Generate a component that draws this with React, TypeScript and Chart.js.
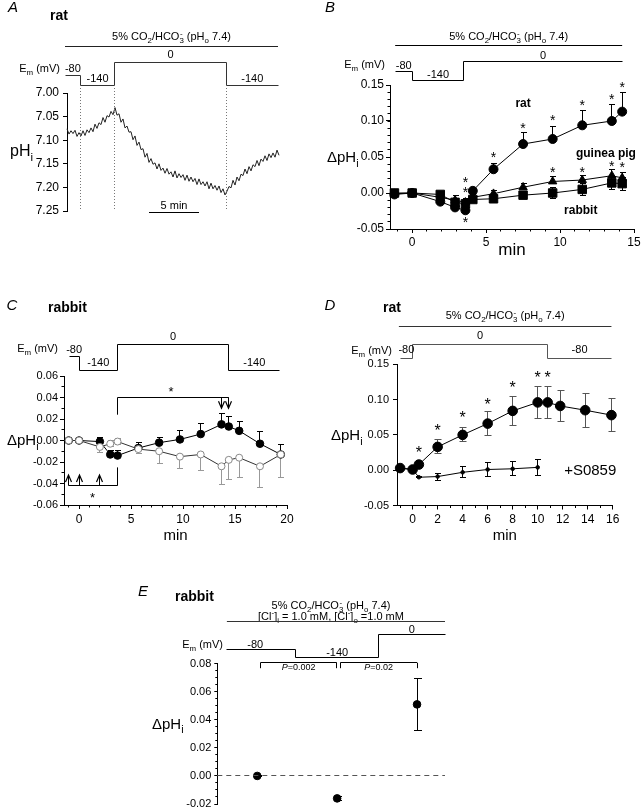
import React, { useEffect, useRef } from 'react';
import { Chart, registerables } from 'chart.js';

Chart.register(...registerables);

const FONT = '"Liberation Sans", Arial, Helvetica, sans-serif';

/* ---------------- Panel A : rat, single pHi recording ---------------- */
const A_SAMPLE_MIN = 0.2;
const A_PHI = [
  7.076, 7.087, 7.080, 7.086, 7.079, 7.092, 7.084, 7.091, 7.080, 7.090,
  7.078, 7.084, 7.074, 7.082, 7.066, 7.075, 7.063, 7.067, 7.052, 7.062,
  7.048, 7.051, 7.039, 7.046, 7.031, 7.047, 7.044, 7.062, 7.055, 7.074,
  7.070, 7.083, 7.082, 7.099, 7.091, 7.111, 7.104, 7.120, 7.118, 7.136,
  7.128, 7.147, 7.139, 7.151, 7.148, 7.161, 7.150, 7.164, 7.159, 7.170,
  7.160, 7.172, 7.167, 7.178, 7.165, 7.180, 7.171, 7.179, 7.173, 7.185,
  7.174, 7.187, 7.178, 7.188, 7.181, 7.194, 7.182, 7.194, 7.188, 7.197,
  7.188, 7.203, 7.191, 7.203, 7.196, 7.206, 7.197, 7.211, 7.203, 7.216,
  7.208, 7.198, 7.201, 7.185, 7.195, 7.178, 7.186, 7.172, 7.175, 7.161,
  7.171, 7.156, 7.165, 7.152, 7.156, 7.143, 7.154, 7.140, 7.145, 7.133,
  7.143, 7.129, 7.137, 7.127, 7.136, 7.121, 7.132,
];
const A_YTICKS = [7.0, 7.05, 7.1, 7.15, 7.2, 7.25];
const A_STEP_T = [-0.2, 1.37, 4.73, 15.97, 21.1];
const A_STEP_MV = ['-80', '-140', '0', '-140'];
const A_BAR_T = [8.2, 13.2];

/* ---------------- Panel B : rat / guinea pig / rabbit ---------------- */
const B_TIME = [-1.2, 0, 1.9, 2.9, 3.6, 4.1, 5.5, 7.5, 9.5, 11.5, 13.5, 14.2];
const B_RAT = [-0.002, 0.0, -0.012, -0.02, -0.024, 0.003, 0.033, 0.068, 0.075, 0.094, 0.1, 0.113];
const B_RAT_SEM = [0.002, 0.002, 0.003, 0.004, 0.004, 0.003, 0.008, 0.016, 0.018, 0.02, 0.023, 0.027];
const B_GPIG = [-0.001, 0.0, -0.006, -0.01, -0.013, -0.006, -0.001, 0.008, 0.016, 0.018, 0.024, 0.021];
const B_GPIG_SEM = [0.002, 0.002, 0.004, 0.006, 0.006, 0.004, 0.005, 0.005, 0.007, 0.007, 0.008, 0.007];
const B_RABBIT = [0.0, 0.0, -0.002, -0.013, -0.015, -0.009, -0.008, -0.003, 0.0, 0.005, 0.014, 0.013];
const B_RABBIT_SEM = [0.002, 0.002, 0.003, 0.005, 0.006, 0.004, 0.004, 0.005, 0.007, 0.008, 0.009, 0.009];
const B_STAR_T = [3.6, 3.6, 3.6, 5.5, 7.5, 9.5, 11.5, 13.5, 14.2, 9.5, 11.5, 13.5, 14.2];
const B_STAR_V = [0.019, 0.005, -0.036, 0.054, 0.095, 0.105, 0.127, 0.135, 0.152, 0.034, 0.034, 0.041, 0.04];
const B_XTICKS = [0, 5, 10, 15];
const B_YTICKS = [-0.05, 0, 0.05, 0.1, 0.15];
const B_STEP_T = [-1.15, 0, 3.5, 14.2];
const B_STEP_MV = ['-80', '-140', '0'];

/* ---------------- Panel C : rabbit ---------------- */
const C_TIME = [-1, 0, 2, 3, 3.7, 5.7, 7.7, 9.7, 11.7, 13.7, 14.4, 15.4, 17.4, 19.4];
const C_FILLED = [0.0, 0.0, -0.001, -0.013, -0.014, -0.007, -0.002, 0.001, 0.006, 0.015, 0.013, 0.009, -0.003, -0.013];
const C_FILLED_SEM = [0, 0, 0.004, 0.004, 0.005, 0.005, 0.005, 0.008, 0.01, 0.01, 0.009, 0.009, 0.011, 0.009];
const C_OPEN = [0.0, 0.0, -0.006, -0.003, -0.001, -0.008, -0.01, -0.015, -0.013, -0.024, -0.018, -0.016, -0.024, -0.013];
const C_OPEN_SEM_DN = [0, 0, 0.005, 0.003, 0.003, 0.004, 0.011, 0.011, 0.015, 0.017, 0.018, 0.018, 0.02, 0.021];
const C_OPEN_SEM_UP = [0, 0, 0.005, 0.003, 0.003, 0, 0, 0, 0, 0, 0, 0, 0, 0];
const C_XTICKS = [0, 5, 10, 15, 20];
const C_YTICKS = [-0.06, -0.04, -0.02, 0, 0.02, 0.04, 0.06];
const C_STEP_T = [-0.95, 0, 3.7, 14.4, 19.3];
const C_STEP_MV = ['-80', '-140', '0', '-140'];
const C_UP_BRACKET_T = [3.7, 14.4];
const C_UP_ARROW_T = [13.7, 14.4];
const C_DN_BRACKET_T = [-1, 3.7];
const C_DN_ARROW_T = [-1, 0, 2];

/* ---------------- Panel D : rat, +/- S0859 ---------------- */
const D_TIME = [-1, 0, 0.5, 2, 4, 6, 8, 10, 10.8, 11.8, 13.8, 15.9];
const D_RAT = [0.003, 0.001, 0.008, 0.033, 0.05, 0.066, 0.084, 0.096, 0.096, 0.091, 0.085, 0.078];
const D_RAT_SEM = [0.002, 0.001, 0.002, 0.01, 0.01, 0.017, 0.02, 0.023, 0.023, 0.022, 0.024, 0.023];
const D_S_TIME = [-1, 0, 0.5, 2, 4, 6, 8, 10];
const D_S0859 = [0.003, 0.001, -0.01, -0.009, -0.003, 0.001, 0.002, 0.004];
const D_S0859_SEM = [0, 0, 0.001, 0.005, 0.008, 0.01, 0.01, 0.011];
const D_STAR_T = [0.5, 2, 4, 6, 8, 10, 10.8];
const D_STAR_V = [0.03, 0.061, 0.08, 0.098, 0.122, 0.137, 0.137];
const D_XTICKS = [0, 2, 4, 6, 8, 10, 12, 14, 16];
const D_YTICKS = [-0.05, 0, 0.05, 0.1, 0.15];
const D_STEP_T = [-1.0, 0, 10.8, 15.9];
const D_STEP_MV = ['-80', '0', '-80'];

/* ---------------- Panel E : rabbit, low Cl- ---------------- */
const E_POS = [1, 2, 3];
const E_DPHI = [0.0, -0.016, 0.051];
const E_SEM = [0.0006, 0.0012, 0.0185];
const E_YTICKS = [-0.02, 0, 0.02, 0.04, 0.06, 0.08];
const E_STEP_X = [0.62, 1.48, 2.52, 3.35];
const E_STEP_MV = ['-80', '-140', '0'];
const E_P_BRACKETS = [[1.04, 1.995], [2.04, 3.0]];
const E_P_TEXT = ['0.002', '0.02'];

/* ---------------- drawing helpers ---------------- */
type Seg = { t: string; sub?: boolean; sup?: boolean; it?: boolean; b?: boolean; stack?: boolean };

const CO2_SEGS: Seg[] = [
  { t: '5% CO' }, { t: '2', sub: true }, { t: '/HCO' }, { t: '3', sub: true }, { t: '-', sup: true, stack: true },
  { t: ' (pH' }, { t: 'o', sub: true }, { t: ' 7.4)' },
];
const CL_SEGS: Seg[] = [
  { t: '[Cl' }, { t: '-', sup: true }, { t: ']' }, { t: 'i', sub: true }, { t: ' = 1.0 mM, [Cl' }, { t: '-', sup: true },
  { t: ']' }, { t: 'o', sub: true }, { t: ' =1.0 mM' },
];
const EM_SEGS: Seg[] = [{ t: 'E' }, { t: 'm', sub: true }, { t: ' (mV)' }];
const DPH_SEGS: Seg[] = [{ t: '\u0394pH' }, { t: 'i', sub: true }];
const PHI_SEGS: Seg[] = [{ t: 'pH' }, { t: 'i', sub: true }];

function segFont(s: Seg, size: number): string {
  const sz = s.sub || s.sup ? Math.round(size * 0.72 * 10) / 10 : size;
  return `${s.it ? 'italic ' : ''}${s.b ? 'bold ' : ''}${sz}px ${FONT}`;
}

function drawRich(ctx: any, segs: Seg[], x: number, y: number, size: number, align = 'left', color = '#000') {
  ctx.save();
  ctx.fillStyle = color;
  ctx.textAlign = 'left';
  ctx.textBaseline = 'alphabetic';
  const w = segs.map((s) => {
    ctx.font = segFont(s, size);
    return ctx.measureText(s.t).width;
  });
  let total = 0;
  let pw = 0;
  segs.forEach((s, i) => {
    total += s.stack ? Math.max(0, w[i] - pw) : w[i];
    pw = w[i];
  });
  let cx = align === 'center' ? x - total / 2 : align === 'right' ? x - total : x;
  let prevX = cx;
  pw = 0;
  segs.forEach((s, i) => {
    ctx.font = segFont(s, size);
    const dy = s.sub ? size * 0.3 : s.sup ? -size * 0.4 : 0;
    if (s.stack) {
      ctx.fillText(s.t, prevX + 0.5, y + dy);
      cx = prevX + Math.max(w[i], pw);
    } else {
      ctx.fillText(s.t, cx, y + dy);
      prevX = cx;
      cx += w[i];
    }
    pw = w[i];
  });
  ctx.restore();
}

const crisp = (v: number) => Math.round(v - 0.5) + 0.5;

function seg(ctx: any, x0: number, y0: number, x1: number, y1: number, color = '#000', dash: number[] = []) {
  ctx.save();
  ctx.strokeStyle = color;
  ctx.lineWidth = 1;
  ctx.setLineDash(dash);
  ctx.beginPath();
  ctx.moveTo(x0, y0);
  ctx.lineTo(x1, y1);
  ctx.stroke();
  ctx.restore();
}
const hline = (ctx: any, x0: number, x1: number, y: number, color = '#000', dash: number[] = []) =>
  seg(ctx, x0, crisp(y), x1, crisp(y), color, dash);
const vline = (ctx: any, x: number, y0: number, y1: number, color = '#000', dash: number[] = []) =>
  seg(ctx, crisp(x), y0, crisp(x), y1, color, dash);

function arrow(ctx: any, x: number, yFrom: number, yTip: number) {
  vline(ctx, x, yFrom, yTip);
  const d = yTip > yFrom ? 1 : -1;
  const cx = crisp(x);
  ctx.save();
  ctx.strokeStyle = '#000';
  ctx.lineWidth = 1.2;
  ctx.beginPath();
  ctx.moveTo(cx - 3, yTip - d * 7);
  ctx.lineTo(cx, yTip);
  ctx.lineTo(cx + 3, yTip - d * 7);
  ctx.stroke();
  ctx.restore();
}

function drawProtocol(ctx: any, X: (t: number) => number, times: number[], mv: string[], lv: any, k: number, color = '#000', dx: number[] = []) {
  ctx.save();
  ctx.strokeStyle = color;
  ctx.lineWidth = 1;
  ctx.beginPath();
  for (let i = 0; i < mv.length; i++) {
    const x0 = crisp(X(times[i]));
    const x1 = crisp(X(times[i + 1]));
    const y = crisp(lv[mv[i]]);
    if (i === 0) ctx.moveTo(x0, y);
    else ctx.lineTo(x0, y);
    ctx.lineTo(x1, y);
  }
  ctx.stroke();
  ctx.restore();
  mv.forEach((m, i) => {
    const cx = (X(times[i]) + X(times[i + 1])) / 2 + (dx[i] || 0);
    drawRich(ctx, [{ t: m }], cx, lv[m] - k, 11, 'center');
  });
}

function stars(ctx: any, X: (t: number) => number, Y: (v: number) => number, T: number[], V: number[], size: number) {
  ctx.save();
  ctx.fillStyle = '#000';
  ctx.font = `${size}px ${FONT}`;
  ctx.textAlign = 'center';
  ctx.textBaseline = 'alphabetic';
  T.forEach((t, i) => ctx.fillText('*', X(t), Y(V[i]) + size * 0.57));
  ctx.restore();
}

const errorBarsPlugin = {
  id: 'errbars',
  beforeDatasetsDraw(chart: any) {
    const ctx = chart.ctx;
    const ys = chart.scales.y;
    chart.data.datasets.forEach((ds: any, di: number) => {
      if (!ds.errUp && !ds.errDn) return;
      const meta = chart.getDatasetMeta(di);
      const cap = ds.capW ?? 2.5;
      meta.data.forEach((pt: any, i: number) => {
        const v = ds.data[i].y;
        const x = crisp(pt.x);
        [[ds.errUp, 1], [ds.errDn, -1]].forEach(([arr, sgn]: any) => {
          const e = arr ? arr[i] : 0;
          if (!e) return;
          const y1 = crisp(ys.getPixelForValue(v + sgn * e));
          seg(ctx, x, pt.y, x, y1, ds.errColor || '#000');
          seg(ctx, x - cap, y1, x + cap + 1, y1, ds.errColor || '#000');
        });
      });
    });
  },
};

function yAxis(min: number, max: number, ticks: number[], width: number, size: number, tickLen: number, pad: number, reverse = false) {
  return {
    type: 'linear',
    position: 'left',
    min,
    max,
    reverse,
    afterBuildTicks: (s: any) => {
      s.ticks = ticks.map((v) => ({ value: v }));
    },
    afterFit: (s: any) => {
      s.width = width;
      s.paddingTop = 0;
      s.paddingBottom = 0;
    },
    ticks: {
      autoSkip: false,
      font: { family: FONT, size },
      color: '#000',
      padding: pad,
      callback: (v: any) => Number(v).toFixed(2),
    },
    grid: { drawOnChartArea: false, drawTicks: true, tickLength: tickLen, tickColor: '#000', color: '#000', tickWidth: 1 },
    border: { display: true, color: '#000', width: 1 },
  };
}

function xAxis(min: number, max: number, ticks: number[], height: number, size: number, tickLen: number, pad: number) {
  return {
    type: 'linear',
    position: 'bottom',
    min,
    max,
    afterBuildTicks: (s: any) => {
      s.ticks = ticks.map((v) => ({ value: v }));
    },
    afterFit: (s: any) => {
      s.height = height;
      s.paddingLeft = 0;
      s.paddingRight = 0;
    },
    ticks: {
      autoSkip: false,
      maxRotation: 0,
      font: { family: FONT, size },
      color: '#000',
      padding: pad,
      callback: (v: any) => String(v),
    },
    grid: { drawOnChartArea: false, drawTicks: true, tickLength: tickLen, tickColor: '#000', color: '#000', tickWidth: 1 },
    border: { display: true, color: '#000', width: 1 },
  };
}

const xHidden = (min: number, max: number) => ({ type: 'linear', min, max, display: false });

function series(xv: number[], yv: number[], opts: any) {
  return {
    data: xv.map((x, i) => ({ x, y: yv[i] })),
    showLine: true,
    borderColor: '#000',
    borderWidth: 1,
    pointBackgroundColor: '#000',
    pointBorderColor: '#000',
    pointBorderWidth: 1,
    clip: false,
    ...opts,
  };
}

function makeChart(canvas: HTMLCanvasElement, datasets: any[], scales: any, padding: any, annot: any) {
  return new Chart(canvas, {
    type: 'scatter',
    data: { datasets },
    options: {
      responsive: false,
      maintainAspectRatio: false,
      animation: false,
      events: [],
      layout: { padding },
      plugins: { legend: { display: false }, tooltip: { enabled: false } },
      scales,
    },
    plugins: [errorBarsPlugin, annot],
  } as any);
}

function withFrame(OX: number, OY: number, draw: (ctx: any, X: any, Y: any, ca: any) => void) {
  return {
    id: 'annot',
    afterDraw(chart: any) {
      const ctx = chart.ctx;
      const xs = chart.scales.x;
      const ys = chart.scales.y;
      const c = chart.chartArea;
      const X = (t: number) => xs.getPixelForValue(t) + OX;
      const Y = (v: number) => ys.getPixelForValue(v) + OY;
      const ca = { left: c.left + OX, right: c.right + OX, top: c.top + OY, bottom: c.bottom + OY };
      ctx.save();
      ctx.translate(-OX, -OY);
      draw(ctx, X, Y, ca);
      ctx.restore();
    },
  };
}

function minorY(ctx: any, Y: any, ca: any, vals: number[], len: number) {
  vals.forEach((v) => hline(ctx, ca.left - len, ca.left, Y(v)));
}
function minorX(ctx: any, X: any, ca: any, vals: number[], len: number) {
  vals.forEach((t) => vline(ctx, X(t), ca.bottom, ca.bottom + len));
}
const range = (a: number, b: number, step: number) => {
  const out: number[] = [];
  const n = Math.round((b - a) / step);
  for (let i = 0; i <= n; i++) out.push(a + i * step);
  return out;
};

/* ---------------- panels ---------------- */
function buildA(canvas: HTMLCanvasElement) {
  const annot = withFrame(0, 0, (ctx, X, _Y, ca) => {
    drawRich(ctx, [{ t: 'A', it: true }], 13, 12, 15, 'center');
    drawRich(ctx, [{ t: 'rat', b: true }], 50, 20, 14);
    const x0 = X(A_STEP_T[0]);
    const x1 = X(A_STEP_T[A_STEP_T.length - 1]);
    drawRich(ctx, CO2_SEGS, (x0 + x1) / 2, 40, 11, 'center');
    hline(ctx, x0, x1, 46, '#222');
    drawRich(ctx, EM_SEGS, 60, 72, 11, 'right');
    drawProtocol(ctx, X, A_STEP_T, A_STEP_MV, { '-80': 75.7, '-140': 85.7, '0': 62.3 }, 4, '#333');
    for (let i = 1; i < A_STEP_T.length - 1; i++) vline(ctx, X(A_STEP_T[i]), 88, ca.bottom, '#777', [1, 2]);
    hline(ctx, X(A_BAR_T[0]), X(A_BAR_T[1]), 212, '#000');
    drawRich(ctx, [{ t: '5 min' }], (X(A_BAR_T[0]) + X(A_BAR_T[1])) / 2, 208.5, 11, 'center');
    drawRich(ctx, PHI_SEGS, 10, 156, 16);
  });
  const ds = [
    {
      data: A_PHI.map((v, i) => ({ x: i * A_SAMPLE_MIN, y: v })),
      showLine: true,
      pointRadius: 0,
      borderColor: '#222',
      borderWidth: 1,
      clip: false,
    },
  ];
  return makeChart(
    canvas,
    ds,
    { x: xHidden(0, 21.2), y: yAxis(7.0, 7.25, A_YTICKS, 67, 12, 4, 4, true) },
    { left: 0, top: 93, right: 41, bottom: 29 },
    annot
  );
}

function buildB(canvas: HTMLCanvasElement) {
  const annot = withFrame(320, 0, (ctx, X, Y, ca) => {
    minorY(ctx, Y, ca, range(-0.05, 0.15, 0.01), 2.5);
    minorX(ctx, X, ca, range(-1, 15, 1), 2.5);
    drawRich(ctx, [{ t: 'B', it: true }], 330, 12, 15, 'center');
    const x0 = X(B_STEP_T[0]);
    const x1 = X(B_STEP_T[B_STEP_T.length - 1]);
    drawRich(ctx, CO2_SEGS, (x0 + x1) / 2, 40, 11, 'center');
    hline(ctx, x0, x1, 45, '#000');
    drawRich(ctx, EM_SEGS, 385, 68, 11, 'right');
    drawProtocol(ctx, X, B_STEP_T, B_STEP_MV, { '-80': 71.7, '-140': 80.7, '0': 61.7 }, 3, '#000');
    drawRich(ctx, DPH_SEGS, 327, 162, 15);
    drawRich(ctx, [{ t: 'min' }], (ca.left + ca.right) / 2, 255, 17, 'center');
    drawRich(ctx, [{ t: 'rat', b: true }], X(7.5), Y(0.125) + 4, 12, 'center');
    drawRich(ctx, [{ t: 'guinea pig', b: true }], X(13.1), Y(0.055) + 4, 12, 'center');
    drawRich(ctx, [{ t: 'rabbit', b: true }], X(11.4), Y(-0.024) + 4, 12, 'center');
    stars(ctx, X, Y, B_STAR_T, B_STAR_V, 14);
  });
  const ds = [
    series(B_TIME, B_RABBIT, { pointStyle: 'rect', pointRadius: 6, errUp: B_RABBIT_SEM, errDn: B_RABBIT_SEM }),
    series(B_TIME, B_GPIG, { pointStyle: 'triangle', pointRadius: 4.8, errUp: B_GPIG_SEM }),
    series(B_TIME, B_RAT, { pointStyle: 'circle', pointRadius: 4.5, errUp: B_RAT_SEM }),
  ];
  return makeChart(
    canvas,
    ds,
    { x: xAxis(-1.5, 15, B_XTICKS, 31, 12, 4, 2), y: yAxis(-0.05, 0.15, B_YTICKS, 70, 12, 4, 2) },
    { left: 0, top: 85, right: 4, bottom: 0 },
    annot
  );
}

function buildC(canvas: HTMLCanvasElement) {
  const annot = withFrame(0, 290, (ctx, X, Y, ca) => {
    minorY(ctx, Y, ca, range(-0.06, 0.06, 0.01), 2.5);
    minorX(ctx, X, ca, range(-1, 20, 1), 2.5);
    drawRich(ctx, [{ t: 'C', it: true }], 12, 310, 15, 'center');
    drawRich(ctx, [{ t: 'rabbit', b: true }], 48, 311.5, 14);
    drawRich(ctx, EM_SEGS, 58, 352, 11, 'right');
    drawProtocol(ctx, X, C_STEP_T, C_STEP_MV, { '-80': 356.7, '-140': 370, '0': 344.3 }, 4, '#000');
    drawRich(ctx, DPH_SEGS, 7, 445, 15);
    drawRich(ctx, [{ t: 'min' }], (ca.left + ca.right) / 2, 540, 15, 'center');
    // upper significance bracket
    hline(ctx, X(C_UP_BRACKET_T[0]), X(C_UP_BRACKET_T[1]), Y(0.04));
    vline(ctx, X(C_UP_BRACKET_T[0]), Y(0.04), Y(0.024));
    C_UP_ARROW_T.forEach((t) => arrow(ctx, X(t), Y(0.04), Y(0.03)));
    stars(ctx, X, Y, [8.85], [0.048], 13);
    // lower significance bracket
    hline(ctx, X(C_DN_BRACKET_T[0]), X(C_DN_BRACKET_T[1]), Y(-0.042));
    vline(ctx, X(C_DN_BRACKET_T[1]), Y(-0.042), Y(-0.025));
    C_DN_ARROW_T.forEach((t) => arrow(ctx, X(t), Y(-0.042), Y(-0.032)));
    stars(ctx, X, Y, [1.3], [-0.05], 13);
  });
  const ds = [
    series(C_TIME, C_OPEN, {
      pointRadius: 3.5,
      pointBackgroundColor: '#fff',
      pointBorderColor: '#888',
      borderColor: '#333',
      errDn: C_OPEN_SEM_DN,
      errUp: C_OPEN_SEM_UP,
      errColor: '#999',
    }),
    series(C_TIME, C_FILLED, { pointRadius: 3.8, errUp: C_FILLED_SEM }),
  ];
  return makeChart(
    canvas,
    ds,
    { x: xAxis(-1.45, 20, C_XTICKS, 45, 12, 4, 3), y: yAxis(-0.06, 0.06, C_YTICKS, 64, 11, 4, 2) },
    { left: 0, top: 86, right: 33, bottom: 0 },
    annot
  );
}

function buildD(canvas: HTMLCanvasElement) {
  const annot = withFrame(320, 290, (ctx, X, Y, ca) => {
    minorX(ctx, X, ca, range(-1, 16, 1), 2.5);
    drawRich(ctx, [{ t: 'D', it: true }], 330, 310, 15, 'center');
    drawRich(ctx, [{ t: 'rat', b: true }], 383, 311.5, 14);
    const x0 = X(-1.1);
    const x1 = X(D_STEP_T[D_STEP_T.length - 1]);
    drawRich(ctx, CO2_SEGS, (x0 + x1) / 2, 319, 11, 'center');
    hline(ctx, x0, x1, 326, '#333');
    drawRich(ctx, EM_SEGS, 392, 353.5, 11, 'right');
    drawProtocol(ctx, X, D_STEP_T, D_STEP_MV, { '-80': 358, '0': 344 }, 5, '#555', [0, 0, 0]);
    drawRich(ctx, DPH_SEGS, 331, 440, 15);
    drawRich(ctx, [{ t: 'min' }], (ca.left + ca.right) / 2, 540, 15, 'center');
    drawRich(ctx, [{ t: '+S0859' }], X(14.2), Y(0) + 5, 15, 'center');
    stars(ctx, X, Y, D_STAR_T, D_STAR_V, 16);
  });
  const ds = [
    series(D_S_TIME, D_S0859, { pointRadius: 1.8, errUp: D_S0859_SEM, errDn: D_S0859_SEM, capW: 2.5 }),
    series(D_TIME, D_RAT, { pointRadius: 4.8, errUp: D_RAT_SEM, errDn: D_RAT_SEM, errColor: '#555', capW: 3 }),
  ];
  return makeChart(
    canvas,
    ds,
    { x: xAxis(-1.25, 16, D_XTICKS, 44.5, 12, 4, 2.5), y: yAxis(-0.05, 0.15, D_YTICKS, 77, 11, 4, 4) },
    { left: 0, top: 74.3, right: 28.3, bottom: 0 },
    annot
  );
}

function buildE(canvas: HTMLCanvasElement) {
  const annot = withFrame(130, 570, (ctx, X, Y, ca) => {
    minorY(ctx, Y, ca, range(-0.02, 0.08, 0.005), 2);
    drawRich(ctx, [{ t: 'E', it: true }], 143, 596, 15, 'center');
    drawRich(ctx, [{ t: 'rabbit', b: true }], 175, 601, 14);
    drawRich(ctx, CO2_SEGS, 331, 609, 11, 'center');
    drawRich(ctx, CL_SEGS, 331, 619.5, 11, 'center');
    hline(ctx, X(E_STEP_X[0]), X(E_STEP_X[E_STEP_X.length - 1]), 621.7, '#333');
    drawRich(ctx, EM_SEGS, 223, 648, 11, 'right');
    drawProtocol(ctx, X, E_STEP_X, E_STEP_MV, { '-80': 649.3, '-140': 657.3, '0': 634.3 }, 1.5, '#000', [-6, 0, 0]);
    hline(ctx, ca.left, ca.right, Y(0), '#555', [5, 4]);
    E_P_BRACKETS.forEach(([a, b], i) => {
      const yb = Y(0.0807);
      hline(ctx, X(a), X(b), yb);
      vline(ctx, X(a), yb, Y(0.0768));
      vline(ctx, X(b), yb, Y(0.0768));
      drawRich(ctx, [{ t: 'P', it: true }, { t: '=' + E_P_TEXT[i] }], (X(a) + X(b)) / 2, Y(0.0752), 9, 'center');
    });
    drawRich(ctx, DPH_SEGS, 152, 728.5, 15);
  });
  const ds = [
    series(E_POS, E_DPHI, { showLine: false, pointRadius: 3.8, errUp: E_SEM, errDn: E_SEM, capW: 3.5 }),
  ];
  return makeChart(
    canvas,
    ds,
    { x: xHidden(0.5, 3.35), y: yAxis(-0.02, 0.08, E_YTICKS, 87.3, 11, 3, 3) },
    { left: 0, top: 93.7, right: 25, bottom: 4 },
    annot
  );
}

export default function App() {
  const refA = useRef<HTMLCanvasElement>(null);
  const refB = useRef<HTMLCanvasElement>(null);
  const refC = useRef<HTMLCanvasElement>(null);
  const refD = useRef<HTMLCanvasElement>(null);
  const refE = useRef<HTMLCanvasElement>(null);

  useEffect(() => {
    const charts = [
      buildA(refA.current!),
      buildB(refB.current!),
      buildC(refC.current!),
      buildD(refD.current!),
      buildE(refE.current!),
    ];
    return () => charts.forEach((c) => c.destroy());
  }, []);

  const cv = (left: number, top: number, w: number, h: number) => ({
    position: 'absolute' as const,
    left,
    top,
    width: w,
    height: h,
  });

  return (
    <div style={{ position: 'absolute', left: 0, top: 0, width: 641, height: 809, background: '#fff', overflow: 'hidden' }}>
      <canvas ref={refA} width={320} height={240} style={cv(0, 0, 320, 240)} />
      <canvas ref={refB} width={321} height={260} style={cv(320, 0, 321, 260)} />
      <canvas ref={refC} width={320} height={260} style={cv(0, 290, 320, 260)} />
      <canvas ref={refD} width={321} height={260} style={cv(320, 290, 321, 260)} />
      <canvas ref={refE} width={340} height={239} style={cv(130, 570, 340, 239)} />
    </div>
  );
}
